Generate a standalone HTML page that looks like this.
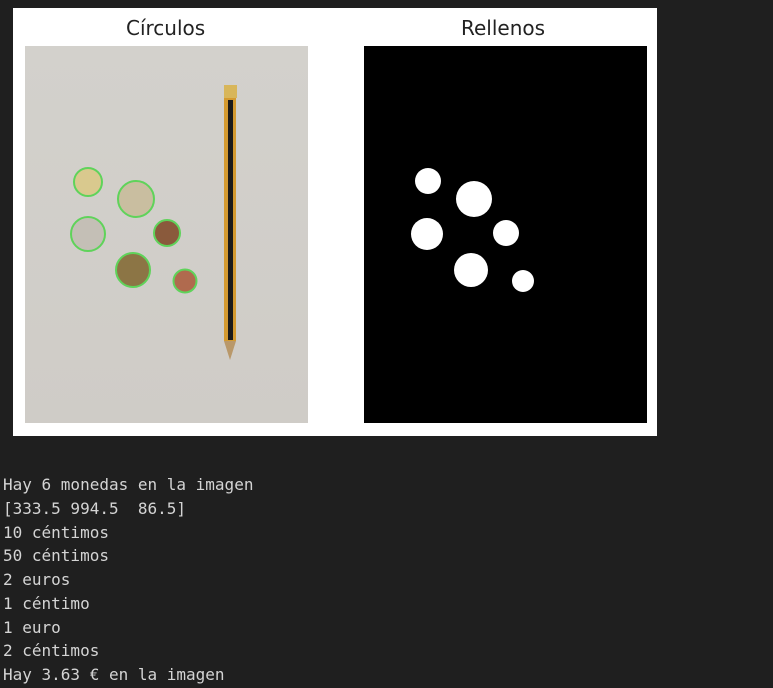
<!DOCTYPE html>
<html><head><meta charset="utf-8"><style>
body{margin:0;width:773px;height:688px;background:#1f1f1f;position:relative;overflow:hidden}
.t{position:absolute;font-family:"DejaVu Sans","Liberation Sans",sans-serif;font-size:20px;color:#222}
pre{position:absolute;left:3px;top:473px;margin:0;font-family:"DejaVu Sans Mono","Liberation Mono",monospace;font-size:16px;line-height:23.75px;color:#d4d4d4}
</style></head><body>
<svg width="773" height="688" style="position:absolute;left:0;top:0">
<defs><linearGradient id="g" x1="0" y1="0" x2="0" y2="1"><stop offset="0" stop-color="#d3d1cc"/><stop offset="1" stop-color="#cfccc7"/></linearGradient></defs>
<rect x="13" y="8" width="644" height="428" fill="#fff"/>
<rect x="25" y="46" width="283" height="377" fill="url(#g)"/>
<g stroke="#5fd35a" stroke-width="2">
<circle cx="88" cy="182" r="14" fill="#d9c98e"/>
<circle cx="136" cy="199" r="18" fill="#c9bea0"/>
<circle cx="88" cy="234" r="17" fill="#c4bfb6"/>
<circle cx="167" cy="233" r="13" fill="#8a5a3c"/>
<circle cx="133" cy="270" r="17" fill="#8c7545"/>
<circle cx="185" cy="281" r="11.5" fill="#b06a4e"/>
</g>
<rect x="224" y="85" width="13" height="13" fill="#d8b65a"/>
<rect x="224" y="98" width="12" height="243" fill="#d49a30"/>
<rect x="228" y="100" width="5" height="240" fill="#1a1a1a"/>
<polygon points="224,341 236,341 230,360" fill="#b9986a"/>
<rect x="364" y="46" width="283" height="377" fill="#000"/>
<g fill="#fff">
<circle cx="428" cy="181" r="13"/>
<circle cx="474" cy="199" r="18"/>
<circle cx="427" cy="234" r="16"/>
<circle cx="506" cy="233" r="13"/>
<circle cx="471" cy="270" r="17"/>
<circle cx="523" cy="281" r="11"/>
</g>
</svg>
<div class="t" style="left:126px;top:16px">Círculos</div>
<div class="t" style="left:461px;top:16px">Rellenos</div>
<pre>Hay 6 monedas en la imagen
[333.5 994.5  86.5]
10 céntimos
50 céntimos
2 euros
1 céntimo
1 euro
2 céntimos
Hay 3.63 € en la imagen</pre>
</body></html>
